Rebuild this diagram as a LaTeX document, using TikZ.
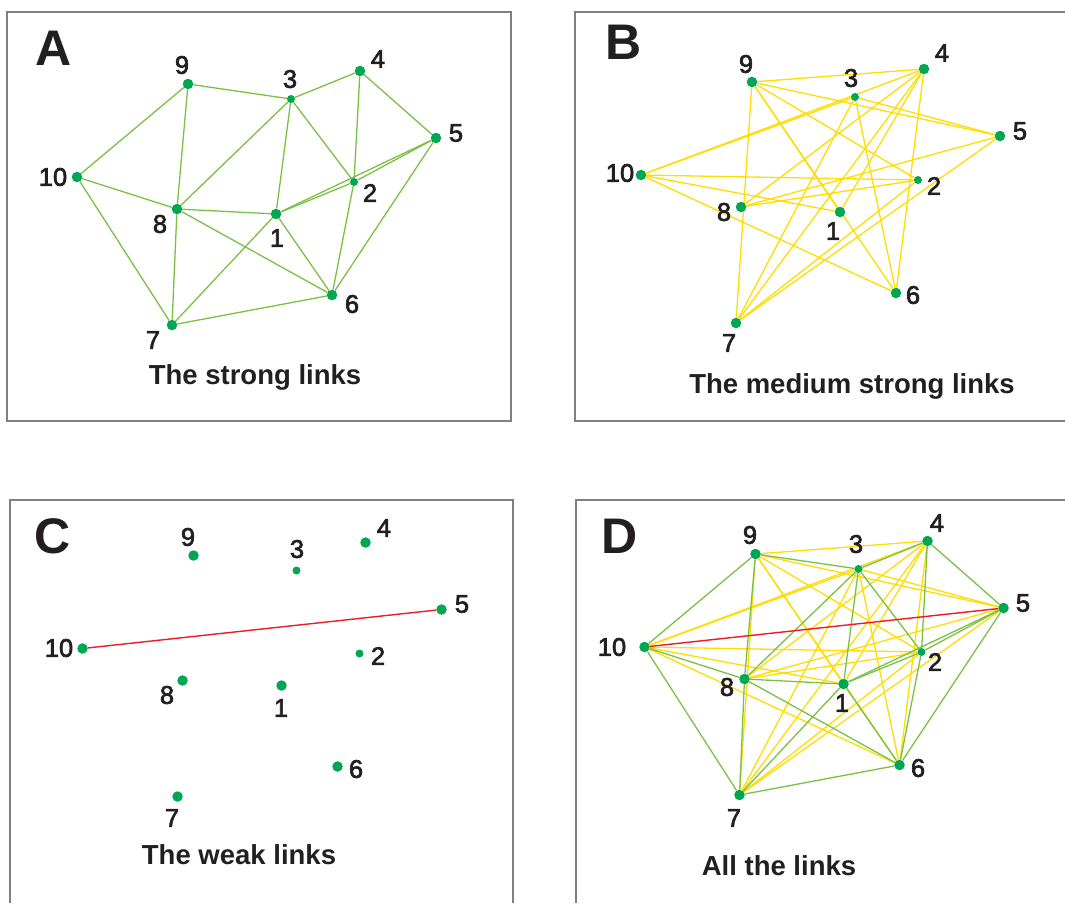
\documentclass[tikz,border=0pt]{standalone}
\usepackage{fontspec}
\setmainfont{Liberation Sans}
\newfontface\numfont{Liberation Sans}[FakeBold=2.5]
\usetikzlibrary{backgrounds}
\definecolor{dotgreen}{RGB}{0,166,81}
\definecolor{linkgreen}{RGB}{122,193,67}
\definecolor{linkyellow}{RGB}{255,221,0}
\definecolor{linkred}{RGB}{237,28,36}
\definecolor{ink}{RGB}{35,31,32}
\definecolor{framegray}{RGB}{128,128,128}

% node layout shared by all four networks: name/x/y/dot style
\def\layout{1/276/214/dot, 2/354/182/sdot, 3/291/99/sdot, 4/360/71/dot, 5/436/138/dot,
  6/332/295/dot, 7/172/325/dot, 8/177/209/dot, 9/188/84/dot, 10/77/177/dot}
\def\strongset{9/3,3/4,4/5,10/9,9/8,3/8,3/1,3/2,4/2,1/2,1/5,2/5,5/6,2/6,10/8,10/7,8/1,8/7,8/6,1/6,1/7,7/6}
\def\mediumset{1/4,1/9,1/10,2/7,2/8,2/9,2/10,3/5,3/6,3/7,3/10,4/6,4/7,4/8,4/9,4/10,5/7,5/8,5/9,6/9,6/10,7/9}
\def\weakset{10/5}

\begin{document}
\begin{tikzpicture}[x=1pt,y=-1pt,
  dot/.style={circle,fill=dotgreen,inner sep=0pt,minimum size=10.5pt},
  sdot/.style={dot,minimum size=8pt},
  num/.style={text=ink,font=\numfont\fontsize{25.5}{25.5}\selectfont,inner sep=0pt},
  panel/.style={text=ink,font=\fontsize{50}{50}\selectfont\bfseries,inner sep=0pt,anchor=base},
  caption/.style={text=ink,font=\fontsize{27.5}{27.5}\selectfont\bfseries,inner sep=0pt,anchor=base},
  strong/.style={draw=linkgreen,line width=1.3pt},
  medium/.style={draw=linkyellow,line width=1.3pt},
  weak/.style={draw=linkred,line width=1.4pt},
  frame/.style={draw=framegray,line width=1.2pt}]
\useasboundingbox (0,0) rectangle (1065,903);

% frames
\draw[frame] (7,12) rectangle (511,421);
\draw[frame] (1065,12) -- (575,12) -- (575,421) -- (1065,421);
\draw[frame] (10,903) -- (10,500) -- (513,500) -- (513,903);
\draw[frame] (576,903) -- (576,500) -- (1065,500);

% ---------- A: strong links ----------
\foreach \n/\x/\y/\s in \layout {\node[\s] (a\n) at (\x,\y) {};}
\begin{scope}[on background layer]
  \foreach \u/\v in \strongset {\draw[strong] (a\u) -- (a\v);}
\end{scope}
\node[panel] (ta) at (54,65) {A};
\foreach \n/\x/\y in {1/277/238, 2/370/193, 3/290/79, 4/378/59, 5/456/133,
  6/352/304, 7/153/340, 8/160/224, 9/182/65, 10/53/177}
  {\node[num] (la\n) at (\x,\y) {\n};}
\node[caption] (ca) at (255,384) {The strong links};

% ---------- B: medium strong links ----------
\begin{scope}[shift={(564,-2)}]
  \foreach \n/\x/\y/\s in \layout {\node[\s] (b\n) at (\x,\y) {};}
\end{scope}
\begin{scope}[on background layer]
  \foreach \u/\v in \mediumset {\draw[medium] (b\u) -- (b\v);}
\end{scope}
\node[panel] (tb) at (624,59) {B};
\foreach \n/\x/\y in {1/833/231, 2/934/186, 3/851/78, 4/942/53, 5/1020/131,
  6/913/295, 7/729/343, 8/724/212, 9/746/64, 10/620/173}
  {\node[num] (lb\n) at (\x,\y) {\n};}
\node[caption] (cb) at (852,393) {The medium strong links};

% ---------- C: weak links ----------
\begin{scope}[shift={(5.5,471.5)}]
  \foreach \n/\x/\y/\s in \layout {\node[\s] (c\n) at (\x,\y) {};}
\end{scope}
\begin{scope}[on background layer]
  \foreach \u/\v in \weakset {\draw[weak] (c\u) -- (c\v);}
\end{scope}
\node[panel] (tc) at (53,553) {C};
\foreach \n/\x/\y in {1/281/708, 2/378/656, 3/297/549, 4/384/528, 5/462/604,
  6/356/769, 7/172/818, 8/167/695, 9/188/537, 10/59/648}
  {\node[num] (lc\n) at (\x,\y) {\n};}
\node[caption] (cc) at (239,864) {The weak links};

% ---------- D: all links ----------
\begin{scope}[shift={(567.5,470)}]
  \foreach \n/\x/\y/\s in \layout {\node[\s] (d\n) at (\x,\y) {};}
\end{scope}
\begin{scope}[on background layer]
  \foreach \u/\v in \mediumset {\draw[medium] (d\u) -- (d\v);}
  \foreach \u/\v in \strongset {\draw[strong] (d\u) -- (d\v);}
  \foreach \u/\v in \weakset {\draw[weak] (d\u) -- (d\v);}
\end{scope}
\node[panel] (td) at (620,553) {D};
\foreach \n/\x/\y in {1/842/703, 2/935/662, 3/856/544, 4/937/523, 5/1023/603,
  6/918/768, 7/734/818, 8/727/687, 9/750/535, 10/612/647}
  {\node[num] (ld\n) at (\x,\y) {\n};}
\node[caption] (cd) at (779,875) {All the links};
\end{tikzpicture}
\end{document}
